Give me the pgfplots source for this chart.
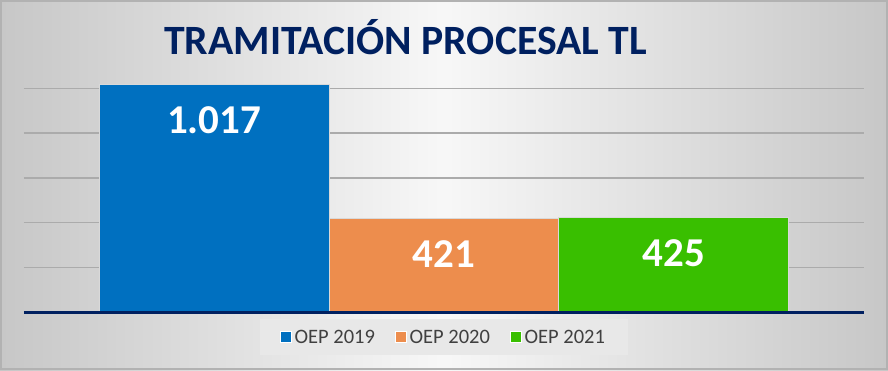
\documentclass[border=0pt]{standalone}
\usepackage{pgfplots}
\pgfplotsset{compat=1.18}
\usepackage{fontspec}
\setmainfont{Carlito}
\definecolor{navy}{RGB}{0,32,96}
\definecolor{cblue}{RGB}{0,112,192}
\definecolor{corange}{RGB}{237,141,77}
\definecolor{cgreen}{RGB}{57,191,0}
\definecolor{legtext}{RGB}{64,64,64}
\begin{document}
\begin{tikzpicture}[x=1pt,y=1pt]
\useasboundingbox (0,0) rectangle (888,370);
\shade[left color=black!22, right color=black!22, middle color=black!3] (0,0) rectangle (888,370);
\draw[black!30, line width=2pt] (1,1) rectangle (887,369);
\node[anchor=base, text=navy, font=\bfseries\fontsize{41.7}{42}\selectfont] at (405.5,315) {TRAMITACIÓN PROCESAL TL};
\begin{axis}[
  at={(24pt,57.5pt)}, anchor=south west,
  scale only axis, width=840pt, height=246.7pt,
  xmin=-0.828, xmax=2.828, ymin=0, ymax=1100,
  clip=false,
  axis line style={draw=none},
  xtick=\empty, ytick={200,400,600,800,1000}, yticklabels={},
  major tick length=0pt,
  ymajorgrids, grid style={black!33, line width=1.3pt},
  ybar, bar width=1, bar shift=0pt,
  /pgf/number format/.cd, 1000 sep={.}, assume math mode=true, /pgfplots/.cd,
  nodes near coords,
  every node near coord/.append style={font=\bfseries\fontsize{41}{41}\selectfont, text=white, anchor=base, yshift=-49.5pt},
  legend columns=3,
  legend image code/.code={\draw[#1, draw=white, line width=0.6pt] (0pt,-5.5pt) rectangle (11pt,5.5pt);},
  legend style={at={(0.5,0)}, anchor=north, yshift=-6.5pt, fill=black!9, draw=none,
    font=\fontsize{20.5}{22}\selectfont, text=legtext,
    inner xsep=20pt, inner ysep=8.5pt,
    /tikz/every even column/.append style={column sep=17pt},
    nodes={inner xsep=3pt}},
]
\addplot[fill=cblue, draw=white!85!black, line width=0.8pt] coordinates {(0,1017)};
\addplot[fill=corange, draw=white!85!black, line width=0.8pt] coordinates {(1,421)};
\addplot[fill=cgreen, draw=white!85!black, line width=0.8pt] coordinates {(2,425)};
\legend{OEP 2019, OEP 2020, OEP 2021}
\draw[navy, line width=3pt] (axis cs:-0.828,0) -- (axis cs:2.828,0);
\end{axis}
\end{tikzpicture}
\end{document}
